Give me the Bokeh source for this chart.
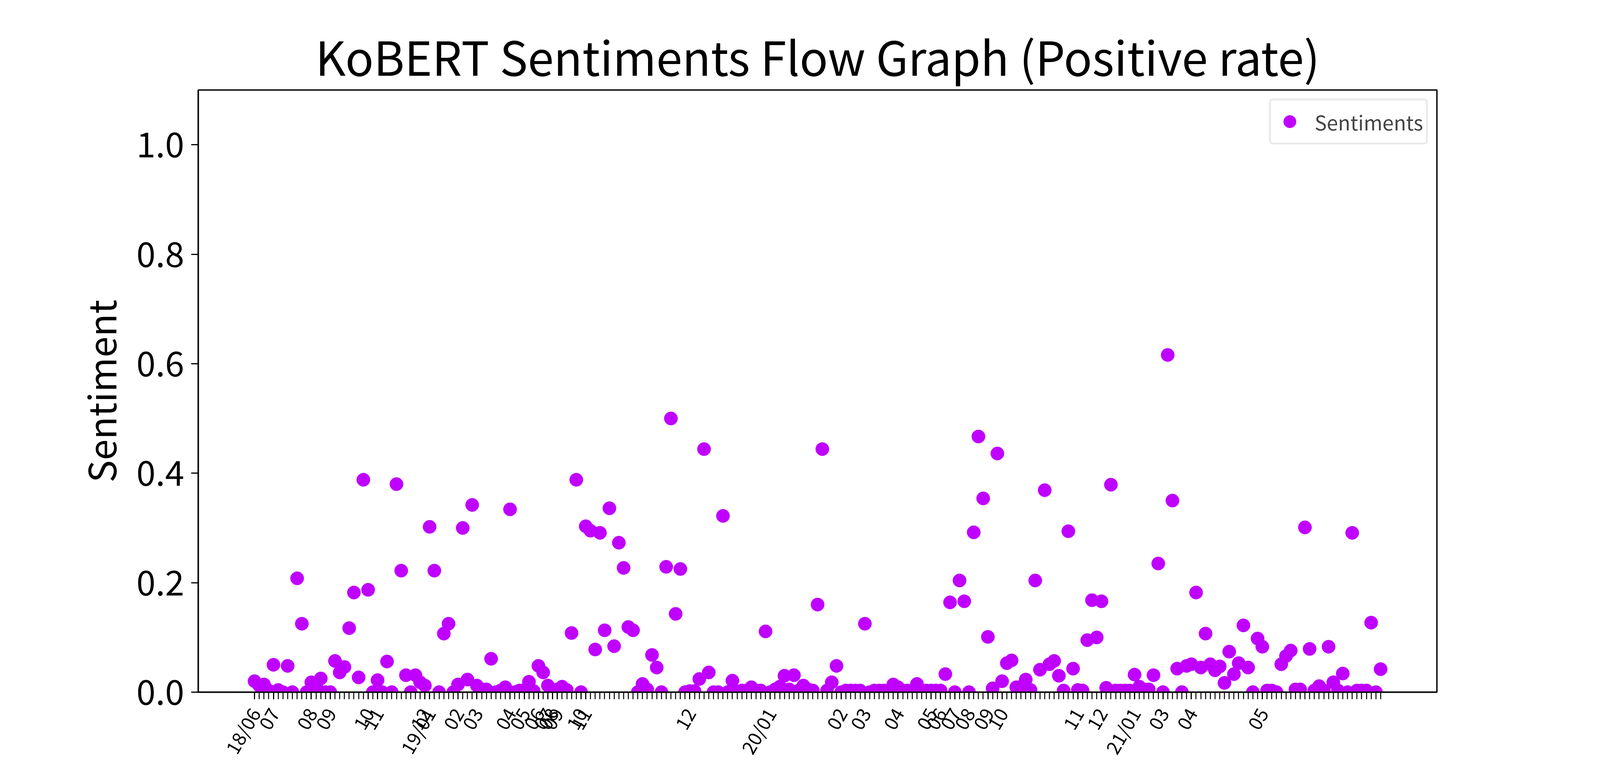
"""KoBERT sentiment flow graph (positive rate) recreated with Bokeh."""

from bokeh.embed import file_html
from bokeh.models import (
    ColumnDataSource, FixedTicker, PrintfTickFormatter, Range1d,
)
from bokeh.plotting import figure
from bokeh.resources import INLINE

FONT = "Noto Sans CJK KR"
PURPLE = "#bf00ff"

# Positive rate per observation, split by year (observations are ordered in time)
rate_2018 = [
    0.020, 0.012, 0.014, 0.003, 0.050, 0.004, 0.0, 0.048, 0.0, 0.208,
    0.125, 0.0, 0.018, 0.012, 0.025, 0.0, 0.0, 0.057, 0.036, 0.046,
    0.117, 0.182, 0.027, 0.388, 0.187, 0.0, 0.022, 0.0, 0.056, 0.0,
    0.380, 0.222, 0.031, 0.0, 0.031, 0.018, 0.012,
]
rate_2019 = [
    0.302, 0.222, 0.0, 0.107, 0.125, 0.0, 0.014, 0.300, 0.023, 0.342,
    0.012, 0.005, 0.005, 0.061, 0.0, 0.003, 0.009, 0.334, 0.0, 0.003,
    0.004, 0.019, 0.002, 0.048, 0.036, 0.012, 0.004, 0.005, 0.010, 0.004,
    0.108, 0.388, 0.0, 0.303, 0.295, 0.078, 0.291, 0.113, 0.336, 0.084,
    0.273, 0.227, 0.119, 0.113, 0.0, 0.015, 0.005, 0.068, 0.045, 0.0,
    0.229, 0.500, 0.143, 0.225, 0.0, 0.002, 0.002, 0.024, 0.444, 0.036,
    0.0, 0.0, 0.322, 0.0, 0.021, 0.0, 0.003, 0.003, 0.009, 0.003,
    0.003, 0.111,
]
rate_2020 = [
    0.0, 0.005, 0.010, 0.030, 0.005, 0.031, 0.003, 0.012, 0.005, 0.003,
    0.160, 0.444, 0.003, 0.018, 0.048, 0.0, 0.003, 0.003, 0.003, 0.003,
    0.125, 0.0, 0.003, 0.003, 0.003, 0.003, 0.014, 0.009, 0.003, 0.003,
    0.003, 0.015, 0.003, 0.003, 0.003, 0.003, 0.003, 0.033, 0.164, 0.0,
    0.204, 0.166, 0.0, 0.292, 0.467, 0.354, 0.101, 0.007, 0.436, 0.020,
    0.053, 0.058, 0.009, 0.010, 0.023, 0.004, 0.204, 0.041, 0.369, 0.051,
    0.057, 0.030, 0.003, 0.294, 0.043, 0.004, 0.003, 0.095, 0.168, 0.100,
    0.166, 0.008, 0.379, 0.003, 0.003, 0.003, 0.003,
]
rate_2021 = [
    0.032, 0.010, 0.005, 0.005, 0.031, 0.235, 0.0, 0.616, 0.350, 0.043,
    0.0, 0.048, 0.051, 0.182, 0.045, 0.107, 0.051, 0.040, 0.047, 0.017,
    0.074, 0.033, 0.053, 0.122, 0.045, 0.0, 0.098, 0.083, 0.003, 0.003,
    0.0, 0.051, 0.066, 0.076, 0.005, 0.005, 0.301, 0.079, 0.003, 0.011,
    0.003, 0.083, 0.018, 0.003, 0.034, 0.0, 0.291, 0.003, 0.003, 0.003,
    0.127, 0.0, 0.042,
]

# First observation of each month and its label
month_start_idx = [
    0, 4, 12, 16, 24, 26, 36,
    37, 43, 47, 54, 57, 60, 62, 63, 64, 69, 70, 92,
    109, 124, 129, 136, 143, 145, 148, 151, 155, 158, 174, 179,
    186, 192, 198, 213,
]
month_labels = [
    "18/06", "07", "08", "09", "10", "11", "12",
    "19/01", "02", "03", "04", "05", "06", "07", "08", "09", "10", "11", "12",
    "20/01", "02", "03", "04", "05", "06", "07", "08", "09", "10", "11", "12",
    "21/01", "03", "04", "05",
]

y_ticks = [0.0, 0.2, 0.4, 0.6, 0.8, 1.0]

rates = rate_2018 + rate_2019 + rate_2020 + rate_2021
n = len(rates)
source = ColumnDataSource(data=dict(x=list(range(n)), y=rates))

# the page viewport is 4096 px wide, so the figure keeps the reference's
# relative layout inside 4080 x 1984
pad = 0.05 * (n - 1)
p = figure(
    width=4080, height=1984,
    x_range=Range1d(-pad, n - 1 + pad),
    y_range=Range1d(0, 1.1),
    output_backend="svg", toolbar_location=None,
    min_border_left=507, min_border_right=402,
    min_border_top=230, min_border_bottom=212,
)

p.title.text = "KoBERT Sentiments Flow Graph (Positive rate)"
p.title.align = "center"
p.title.text_font = FONT
p.title.text_font_size = "120px"
p.title.text_font_style = "normal"
p.title.text_color = "black"
p.title.standoff = 4

p.scatter("x", "y", source=source, size=34, fill_color=PURPLE,
          line_color=PURPLE, legend_label="Sentiments")

p.xgrid.visible = False
p.ygrid.visible = False
p.outline_line_color = "black"
p.outline_line_width = 3.5

# x axis: a tick per observation, a label only at each month start
labels = {i: lab for i, lab in zip(month_start_idx, month_labels)}
p.xaxis.ticker = FixedTicker(ticks=month_start_idx, minor_ticks=list(range(n)))
p.xaxis.major_label_overrides = labels
p.xaxis.major_label_orientation = 1.047
p.xaxis.major_label_text_font = FONT
p.xaxis.major_label_text_font_size = "48px"
p.xaxis.major_label_standoff = 26
p.xaxis.minor_tick_out = 18
p.xaxis.minor_tick_in = 0
p.xaxis.minor_tick_line_width = 2.5
p.xaxis.minor_tick_line_color = "black"

p.yaxis.ticker = FixedTicker(ticks=y_ticks)
p.yaxis.formatter = PrintfTickFormatter(format="%.1f")
p.yaxis.major_label_text_font = FONT
p.yaxis.major_label_text_font_size = "88px"
p.yaxis.major_label_standoff = 18
p.yaxis.minor_tick_line_color = None
p.yaxis.axis_label = "Sentiment"
p.yaxis.axis_label_text_font = FONT
p.yaxis.axis_label_text_font_size = "96px"
p.yaxis.axis_label_text_font_style = "normal"
p.yaxis.axis_label_text_color = "black"
p.yaxis.axis_label_standoff = 20

for ax in (p.xaxis, p.yaxis):
    ax.axis_line_width = 3.5
    ax.axis_line_color = "black"
    ax.major_tick_out = 18
    ax.major_tick_in = 0
    ax.major_tick_line_width = 3
    ax.major_tick_line_color = "black"
    ax.major_label_text_color = "black"

leg = p.legend[0]
leg.location = "top_right"
leg.margin = 22
leg.padding = 8
leg.glyph_height = 92
leg.glyph_width = 80
leg.label_standoff = 24
leg.label_text_font = FONT
leg.label_text_font_size = "52px"
leg.border_line_color = "#d6d6d6"
leg.border_line_width = 5
leg.background_fill_alpha = 1.0
if "border_radius" in leg.properties():
    leg.border_radius = 10

open("out.html", "w").write(file_html(p, INLINE))
